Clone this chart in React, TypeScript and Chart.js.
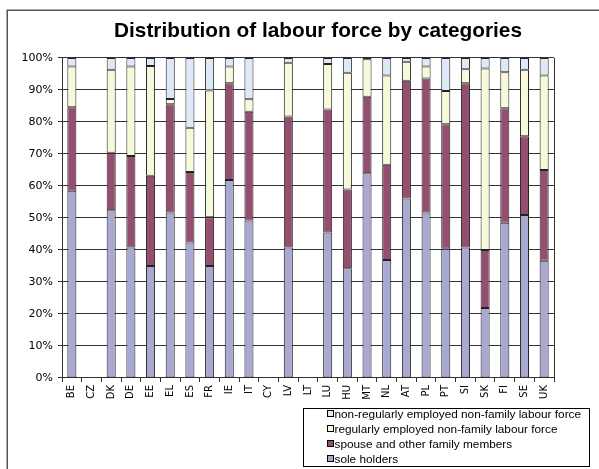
import React, { useEffect, useRef } from "react";
import { Chart, registerables } from "chart.js";

Chart.register(...registerables);

const categories = ["BE","CZ","DK","DE","EE","EL","ES","FR","IE","IT","CY","LV","LT","LU","HU","MT","NL","AT","PL","PT","SI","SK","FI","SE","UK"];
const soleHolders = [58.5, null, 52.4, 40.8, 35.0, 51.7, 42.3, 35.0, 61.9, 49.2, null, 40.8, null, 45.5, 34.3, 64.0, 36.9, 56.1, 51.7, 40.4, 40.8, 21.9, 48.5, 50.9, 36.6];
const spouseFamily = [26.1, null, 18.0, 28.6, 28.2, 33.8, 22.1, 15.2, 30.2, 34.0, null, 40.9, null, 38.4, 24.6, 23.9, 29.7, 36.8, 41.9, 38.9, 51.3, 18.1, 35.8, 24.6, 28.4];
const regularNonFamily = [12.7, null, 25.9, 27.9, 34.3, 1.7, 13.8, 39.6, 5.2, 3.9, null, 16.8, null, 14.2, 36.5, 11.7, 27.9, 5.9, 3.7, 10.4, 4.4, 56.7, 11.2, 20.8, 29.5];
const nonRegularNonFamily = [2.7, null, 3.7, 2.7, 2.5, 12.8, 21.8, 10.2, 2.7, 12.9, null, 1.5, null, 1.9, 4.6, 0.4, 5.5, 1.2, 2.7, 10.3, 3.5, 3.3, 4.5, 3.7, 5.5];
const seriesLabels = [
  "sole holders",
  "spouse and other family members",
  "regularly employed non-family labour force",
  "non-regularly employed non-family labour force",
];
const seriesColors = ["#a8a8d0", "#944f6f", "#f8f8da", "#dde9f6"];
const yTicks = [0, 10, 20, 30, 40, 50, 60, 70, 80, 90, 100];

const framePlugin = {
  id: "frame",
  afterLayout(chart: any) {
    // shift the title's box so it is centred like the original
    if (chart.titleBlock) chart.titleBlock.left = 82;
  },
  beforeDraw(chart: any) {
    const ctx = chart.ctx;
    ctx.save();
    ctx.fillStyle = "#ffffff";
    ctx.fillRect(0, 0, chart.width, chart.height);
    ctx.strokeStyle = "#555555";
    ctx.lineWidth = 1.5;
    ctx.strokeRect(7.25, 10.25, chart.width + 10, chart.height + 10);
    ctx.restore();
  },
  afterDraw(chart: any) {
    const ctx = chart.ctx;
    const a = chart.chartArea;
    ctx.save();
    ctx.strokeStyle = "#333333";
    ctx.lineWidth = 1;
    ctx.beginPath();
    ctx.moveTo(Math.round(a.right) + 0.5, a.top);
    ctx.lineTo(Math.round(a.right) + 0.5, a.bottom);
    ctx.stroke();

    // legend box
    const bx = 303.5, by = 408.5, bw = 286, bh = 58;
    ctx.fillStyle = "#ffffff";
    ctx.fillRect(bx, by, bw, bh);
    ctx.strokeStyle = "#000000";
    ctx.lineWidth = 1;
    ctx.strokeRect(bx, by, bw, bh);
    const ds = chart.data.datasets;
    ctx.font = "11.8px 'Liberation Sans', Arial, sans-serif";
    ctx.textBaseline = "middle";
    ctx.textAlign = "left";
    for (let i = 0; i < ds.length; i++) {
      const d = ds[ds.length - 1 - i];
      const cy = 414 + i * 15;
      ctx.fillStyle = d.backgroundColor;
      ctx.fillRect(327.5, cy - 3.5, 6, 6);
      ctx.strokeStyle = "#000";
      ctx.strokeRect(327.5, cy - 3.5, 6, 6);
      ctx.fillStyle = "#000";
      ctx.fillText(d.label, 334.5, cy + 0.5);
    }
    ctx.restore();
  },
};

export default function App() {
  const ref = useRef<HTMLCanvasElement>(null);
  useEffect(() => {
    document.body.style.margin = "0";
    const values = [soleHolders, spouseFamily, regularNonFamily, nonRegularNonFamily];
    const chart = new Chart(ref.current as HTMLCanvasElement, {
      type: "bar",
      data: {
        labels: categories,
        datasets: values.map((v, i) => ({
          label: seriesLabels[i],
          data: v,
          backgroundColor: seriesColors[i],
          borderColor: "#222222",
          borderWidth: 1,
          borderSkipped: false,
          barPercentage: 0.46,
          categoryPercentage: 1,
        })),
      },
      options: {
        responsive: false,
        animation: false,
        layout: { padding: { left: 0, right: 45, top: 0, bottom: 0 } },
        plugins: {
          legend: { display: false },
          tooltip: { enabled: false },
          title: {
            display: true,
            text: "Distribution of labour force by categories",
            color: "#000",
            font: { family: "'Liberation Sans', Arial, sans-serif", size: 20.8, weight: "bold" },
            padding: { top: 19, bottom: 14 },
          },
        },
        scales: {
          x: {
            stacked: true,
            afterFit: (s: any) => { s.height = 91; },
            grid: { display: true, drawOnChartArea: false, drawTicks: true, tickLength: 4, color: "#333", offset: true },
            border: { display: true, color: "#333" },
            ticks: {
              minRotation: 90,
              maxRotation: 90,
              autoSkip: false,
              padding: 3,
              color: "#000",
              font: { family: "'DejaVu Sans', Verdana, sans-serif", size: 10 },
            },
          },
          y: {
            stacked: true,
            min: 0,
            max: 100,
            afterFit: (s: any) => { s.width = 62; },
            afterBuildTicks: (s: any) => { s.ticks = yTicks.map((v) => ({ value: v })); },
            grid: { color: "#333", lineWidth: 1, tickLength: 4, drawTicks: true },
            border: { display: true, color: "#333" },
            ticks: {
              stepSize: 10,
              padding: 5,
              color: "#000",
              font: { family: "'DejaVu Sans', Verdana, sans-serif", size: 11 },
              callback: (v: any) => v + "%",
            },
          },
        },
      },
      plugins: [framePlugin],
    });
    return () => chart.destroy();
  }, []);
  return (
    <div style={{ position: "absolute", left: 0, top: 0, width: 599, height: 469 }}>
      <canvas ref={ref} width={599} height={469} style={{ width: 599, height: 469 }} />
    </div>
  );
}
